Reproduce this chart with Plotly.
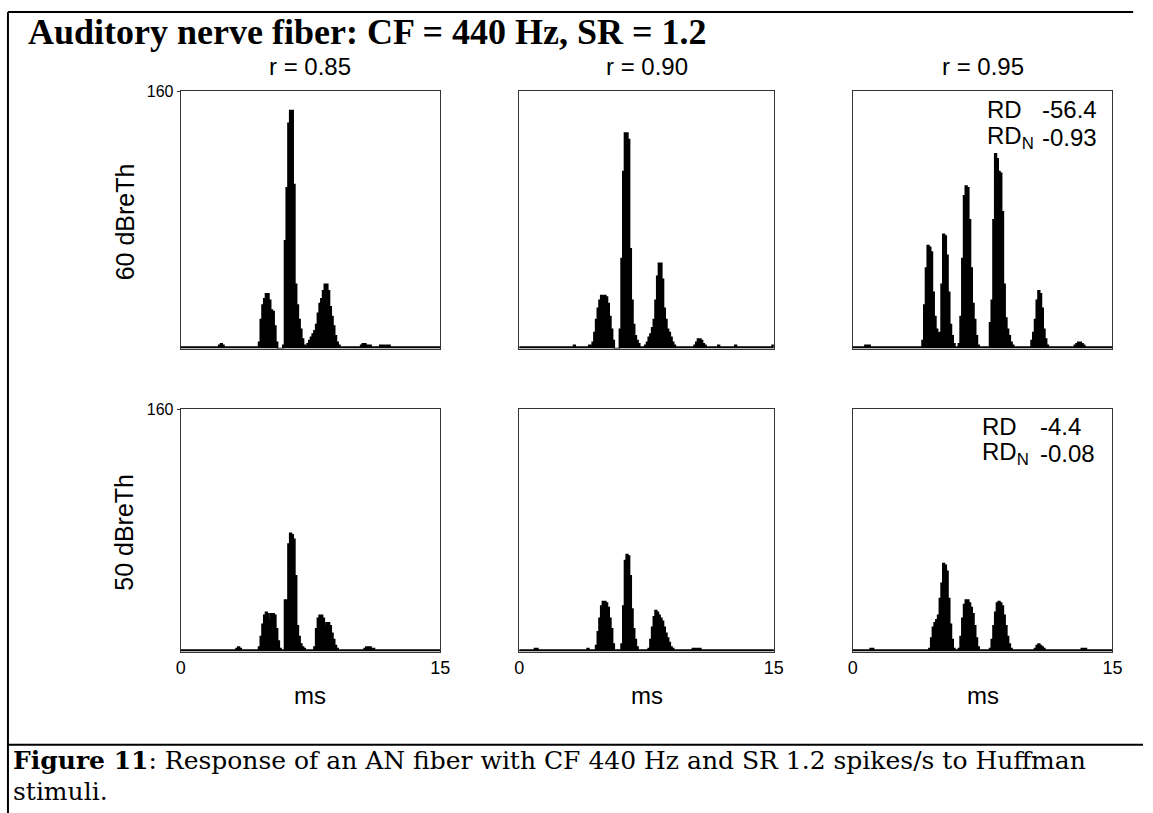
import plotly.graph_objects as go

W, H = 1153, 813

# PST histogram bin width (ms) and time axis
BIN_MS = 0.1
T_MAX = 15
Y_MAX = 160

# Spike counts per 0.1 ms bin, one row per ms (0-15 ms)
counts_60_r085 = [
    1, 1, 1, 1, 1, 1, 1, 1, 1, 1,
    1, 1, 1, 1, 1, 1, 1, 1, 1, 1,
    1, 1, 2, 3, 2, 1, 1, 1, 1, 1,
    1, 1, 1, 1, 1, 1, 1, 1, 1, 1,
    1, 1, 1, 1, 1, 4, 18, 27, 31, 34,
    34, 30, 24, 23, 14, 4, 0, 0, 0, 2,
    67, 100, 140, 148, 148, 102, 40, 27, 18, 12,
    6, 2, 1, 3, 5, 7, 9, 11, 15, 22,
    28, 31, 36, 40, 40, 36, 26, 20, 14, 8,
    4, 2, 1, 1, 1, 1, 1, 1, 1, 1,
    1, 1, 1, 1, 2, 3, 3, 2, 2, 2,
    1, 1, 1, 1, 1, 2, 2, 2, 1, 2,
    2, 1, 1, 1, 1, 1, 1, 1, 1, 1,
    1, 1, 1, 1, 1, 1, 1, 1, 1, 1,
    1, 1, 1, 1, 1, 1, 1, 1, 1, 1,
]
counts_60_r090 = [
    1, 1, 1, 1, 1, 1, 1, 1, 1, 1,
    1, 1, 1, 1, 1, 1, 1, 1, 1, 1,
    1, 1, 1, 1, 1, 1, 1, 1, 1, 1,
    1, 1, 2, 1, 1, 1, 1, 1, 1, 1,
    1, 2, 1, 4, 10, 18, 25, 30, 33, 33,
    33, 32, 28, 20, 12, 5, 0, 0, 0, 12,
    56, 110, 134, 134, 130, 62, 30, 15, 8, 5,
    3, 1, 1, 1, 2, 4, 7, 9, 13, 18,
    30, 45, 53, 53, 43, 25, 18, 12, 10, 7,
    4, 2, 1, 1, 1, 1, 1, 1, 1, 1,
    1, 1, 1, 2, 4, 6, 6, 5, 3, 2,
    1, 1, 1, 1, 1, 1, 1, 2, 1, 1,
    1, 1, 1, 1, 1, 1, 1, 2, 1, 1,
    1, 1, 1, 1, 1, 1, 1, 1, 1, 1,
    1, 1, 1, 1, 1, 1, 1, 1, 1, 2,
]
counts_60_r095 = [
    1, 1, 1, 1, 1, 1, 1, 2, 2, 2,
    1, 1, 1, 1, 1, 1, 1, 1, 1, 1,
    1, 1, 1, 1, 1, 1, 1, 1, 1, 1,
    1, 1, 1, 1, 1, 1, 1, 1, 1, 1,
    5, 27, 50, 64, 63, 60, 35, 20, 12, 9,
    10, 40, 71, 70, 58, 35, 15, 8, 3, 1,
    1, 3, 20, 56, 95, 101, 100, 80, 50, 28,
    18, 8, 2, 1, 1, 1, 1, 1, 1, 16,
    30, 80, 121, 118, 110, 109, 85, 40, 19, 12,
    8, 4, 2, 1, 1, 1, 1, 1, 1, 1,
    1, 1, 1, 5, 10, 18, 30, 36, 34, 25,
    12, 6, 2, 1, 1, 1, 1, 1, 1, 1,
    1, 1, 1, 1, 1, 1, 1, 1, 2, 3,
    4, 4, 3, 2, 1, 1, 1, 1, 1, 1,
    1, 1, 1, 1, 1, 1, 1, 1, 1, 1,
]
counts_50_r085 = [
    1, 1, 1, 1, 1, 1, 1, 1, 1, 1,
    1, 1, 1, 1, 1, 1, 1, 1, 1, 1,
    1, 1, 1, 1, 1, 1, 1, 1, 1, 1,
    1, 1, 2, 3, 2, 1, 1, 1, 1, 1,
    1, 1, 1, 1, 1, 3, 10, 18, 24, 26,
    25, 21, 25, 25, 24, 15, 7, 2, 1, 1,
    34, 34, 71, 78, 77, 74, 50, 17, 10, 5,
    3, 2, 1, 1, 1, 1, 1, 3, 15, 22,
    24, 24, 22, 17, 19, 19, 17, 12, 8, 4,
    2, 1, 1, 1, 1, 1, 1, 1, 1, 1,
    1, 1, 1, 1, 1, 1, 2, 3, 3, 3,
    2, 2, 1, 1, 1, 1, 1, 1, 1, 1,
    1, 1, 1, 1, 1, 1, 1, 1, 1, 1,
    1, 1, 1, 1, 1, 1, 1, 1, 1, 1,
    1, 1, 1, 1, 1, 1, 1, 1, 1, 1,
]
counts_50_r090 = [
    1, 1, 1, 1, 1, 1, 1, 1, 1, 2,
    2, 1, 1, 1, 1, 1, 1, 1, 1, 1,
    1, 1, 1, 1, 1, 1, 1, 1, 1, 1,
    1, 1, 1, 1, 1, 1, 1, 1, 1, 1,
    2, 1, 1, 1, 1, 4, 13, 22, 30, 33,
    33, 32, 29, 22, 15, 5, 1, 1, 1, 1,
    5, 30, 60, 64, 63, 50, 28, 15, 8, 3,
    1, 1, 1, 1, 1, 1, 2, 8, 16, 23,
    27, 26, 24, 22, 20, 16, 12, 9, 6, 3,
    2, 1, 1, 1, 1, 1, 1, 1, 1, 1,
    1, 1, 2, 2, 2, 2, 2, 1, 1, 1,
    1, 1, 1, 1, 1, 1, 1, 1, 1, 1,
    1, 1, 1, 1, 1, 1, 1, 1, 1, 1,
    1, 1, 1, 1, 1, 1, 1, 1, 1, 1,
    1, 1, 1, 1, 1, 1, 1, 1, 1, 1,
]
counts_50_r095 = [
    1, 1, 1, 1, 1, 1, 1, 1, 1, 1,
    2, 2, 1, 1, 1, 1, 1, 1, 1, 1,
    1, 1, 1, 1, 1, 1, 1, 1, 1, 1,
    1, 1, 1, 1, 1, 1, 1, 1, 1, 1,
    1, 1, 1, 1, 2, 9, 16, 19, 21, 24,
    35, 45, 58, 57, 53, 35, 18, 8, 2, 1,
    1, 2, 10, 22, 31, 34, 34, 32, 29, 25,
    17, 9, 3, 1, 1, 1, 1, 1, 1, 2,
    8, 17, 26, 32, 33, 32, 30, 24, 17, 10,
    5, 2, 1, 1, 1, 1, 1, 1, 1, 1,
    1, 1, 1, 1, 1, 2, 4, 5, 4, 3,
    2, 1, 1, 1, 1, 1, 1, 1, 1, 1,
    1, 1, 1, 1, 1, 1, 1, 1, 1, 1,
    1, 1, 2, 2, 2, 1, 1, 1, 1, 1,
    1, 1, 1, 1, 1, 1, 1, 1, 1, 1,
]

col_titles = ["r = 0.85", "r = 0.90", "r = 0.95"]
row_labels = ["60 dBreTh", "50 dBreTh"]
rd_values = [("-56.4", "-0.93"), ("-4.4", "-0.08")]
panels = [
    [counts_60_r085, counts_60_r090, counts_60_r095],
    [counts_50_r085, counts_50_r090, counts_50_r095],
]

SANS = "Liberation Sans, Arial, sans-serif"
SERIF = "Liberation Serif, Times New Roman, serif"
CAPTION_SERIF = "DejaVu Serif, serif"

# panel boxes in pixels
col_px = [(178, 441), (521, 779), (859, 1122)]
row_px = [(84, 344), (405, 650)]


def px_x(x):
    return x / W


def px_y(y):
    return 1 - y / H


fig = go.Figure()
layout = {}
for r in range(2):
    for c in range(3):
        k = r * 3 + c + 1
        sfx = "" if k == 1 else str(k)
        counts = panels[r][c]
        # step outline of the histogram: left bin edges plus the final edge
        edges = [i * BIN_MS for i in range(len(counts) + 1)]
        heights = list(counts) + [counts[-1]]
        fig.add_trace(go.Scatter(
            x=edges, y=heights, mode="lines", line_shape="hv",
            line=dict(color="black", width=1.6),
            fill="tozeroy", fillcolor="black",
            xaxis="x" + sfx, yaxis="y" + sfx, showlegend=False,
            hoverinfo="x+y",
        ))
        x0, x1 = col_px[c]
        y0, y1 = row_px[r]
        layout["xaxis" + sfx] = dict(
            domain=[px_x(x0), px_x(x1)], anchor="y" + sfx,
            range=[0, T_MAX], showgrid=False, zeroline=False,
            showline=True, mirror=True, linecolor="#333", linewidth=1,
            tickvals=[0, T_MAX] if r == 1 else [],
            ticks="", showticklabels=(r == 1),
            tickfont=dict(family=SANS, size=18, color="black"),
            fixedrange=True,
        )
        layout["yaxis" + sfx] = dict(
            domain=[px_y(y1), px_y(y0)], anchor="x" + sfx,
            range=[0, Y_MAX], showgrid=False, zeroline=False,
            showline=True, mirror=True, linecolor="#333", linewidth=1,
            tickvals=[Y_MAX] if c == 0 else [],
            ticks="outside" if c == 0 else "", ticklen=3, tickcolor="#333",
            showticklabels=(c == 0),
            tickfont=dict(family=SANS, size=16, color="black"),
            fixedrange=True,
        )

ann = []
# figure title
ann.append(dict(
    x=px_x(21), y=px_y(24), xref="paper", yref="paper",
    xanchor="left", yanchor="middle", showarrow=False,
    text="<b>Auditory nerve fiber: CF = 440 Hz, SR = 1.2</b>",
    font=dict(family=SERIF, size=36, color="black"),
))
# column headers and x-axis labels
for c, t in enumerate(col_titles):
    xc = (col_px[c][0] + col_px[c][1]) / 2
    ann.append(dict(
        x=px_x(xc), y=px_y(59), xref="paper", yref="paper",
        xanchor="center", yanchor="middle", showarrow=False, text=t,
        font=dict(family=SANS, size=24, color="black"),
    ))
    ann.append(dict(
        x=px_x(xc), y=px_y(694), xref="paper", yref="paper",
        xanchor="center", yanchor="middle", showarrow=False, text="ms",
        font=dict(family=SANS, size=24, color="black"),
    ))
# row labels
for r, t in enumerate(row_labels):
    yc = (row_px[r][0] + row_px[r][1]) / 2
    ann.append(dict(
        x=px_x(121), y=px_y(yc + 2), xref="paper", yref="paper",
        xanchor="center", yanchor="middle", showarrow=False, text=t,
        textangle=-90, font=dict(family=SANS, size=25, color="black"),
    ))
# RD / normalised RD readouts in the r = 0.95 panels
rd_rows = [(103, 131), (423, 450)]
rd_x = [(993, 1049), (988, 1047)]
for r, (rd, rdn) in enumerate(rd_values):
    ya, yb = rd_rows[r]
    xl, xv = rd_x[r]
    for yy, lab, val in [(ya, "RD", rd), (yb, "RD<sub>N</sub>", rdn)]:
        ann.append(dict(
            x=px_x(xl), y=px_y(yy), xref="paper", yref="paper",
            xanchor="left", yanchor="middle", showarrow=False, text=lab,
            font=dict(family=SANS, size=24, color="black"),
        ))
        ann.append(dict(
            x=px_x(xv), y=px_y(yy), xref="paper", yref="paper",
            xanchor="left", yanchor="middle", showarrow=False, text=val,
            font=dict(family=SANS, size=24, color="black"),
        ))
# caption
ann.append(dict(
    x=px_x(6), y=px_y(760), xref="paper", yref="paper",
    xanchor="left", yanchor="middle", showarrow=False,
    text="<b>Figure 11</b>: Response of an AN fiber with CF 440 Hz and SR 1.2 spikes/s to Huffman",
    font=dict(family=CAPTION_SERIF, size=25, color="black"),
))
ann.append(dict(
    x=px_x(6), y=px_y(791), xref="paper", yref="paper",
    xanchor="left", yanchor="middle", showarrow=False, text="stimuli.",
    font=dict(family=CAPTION_SERIF, size=25, color="black"),
))

# frame lines around the figure and above the caption
line = dict(color="black", width=2)
shapes = [
    dict(type="line", xref="paper", yref="paper", x0=px_x(3), x1=px_x(3),
         y0=px_y(4), y1=0, line=line),
    dict(type="line", xref="paper", yref="paper", x0=px_x(3), x1=px_x(1143),
         y0=px_y(4), y1=px_y(4), line=line),
    dict(type="line", xref="paper", yref="paper", x0=px_x(3), x1=1,
         y0=px_y(744), y1=px_y(744), line=line),
]

fig.update_layout(
    width=W, height=H, margin=dict(l=0, r=0, t=0, b=0),
    paper_bgcolor="white", plot_bgcolor="white",
    annotations=ann, shapes=shapes, **layout,
)
fig.write_html("out.html", config={"displayModeBar": False})
